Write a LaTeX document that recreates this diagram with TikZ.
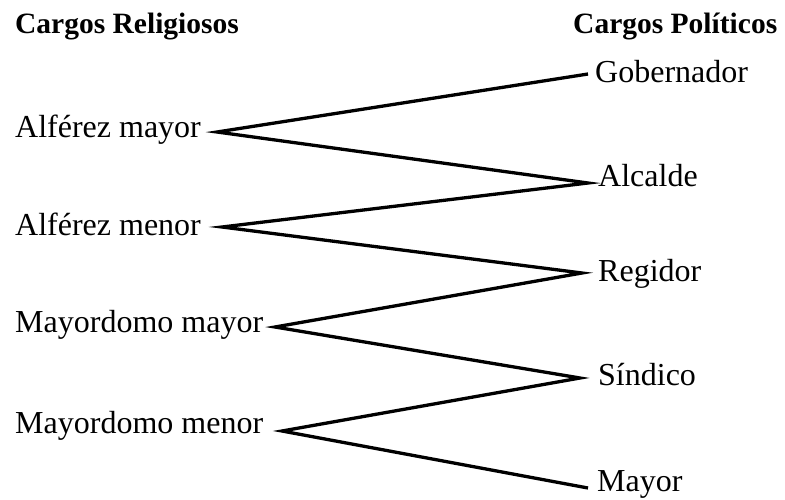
\documentclass[tikz,border=0pt]{standalone}
\usepackage{fontspec}
\setmainfont{Liberation Serif}
\begin{document}
\begin{tikzpicture}[x=1pt,y=-1pt,
  heading/.style={anchor=base west,inner sep=0pt,font=\fontsize{29.5}{34}\selectfont\bfseries},
  cargo/.style={anchor=base west,inner sep=0pt,font=\fontsize{32}{38}\selectfont},
  link/.style={line width=3.3pt,line join=miter,line cap=butt}]
\useasboundingbox (0,0) rectangle (785,499);

% column headings
\node[heading] (rel) at (15,33) {Cargos Religiosos};
\node[heading] (pol) at (573,33) {Cargos Políticos};

% religious offices
\node[cargo] (am)  at (15,137) {Alférez mayor};
\node[cargo] (an)  at (15,235) {Alférez menor};
\node[cargo] (mm)  at (15,332) {Mayordomo mayor};
\node[cargo] (mn)  at (15,433) {Mayordomo menor};

% political offices
\node[cargo] (gob) at (595,82)  {Gobernador};
\node[cargo] (alc) at (598,186) {Alcalde};
\node[cargo] (reg) at (598,281) {Regidor};
\node[cargo] (sin) at (598,385) {Síndico};
\node[cargo] (may) at (597,491.5) {Mayor};

% meeting points of the zigzag
\coordinate (am-p)  at (217,132);
\coordinate (an-p)  at (222,227);
\coordinate (mm-p)  at (275,327);
\coordinate (mn-p)  at (282,431);
\coordinate (gob-p) at (588,74);
\coordinate (alc-p) at (588,183);
\coordinate (reg-p) at (582,273);
\coordinate (sin-p) at (580,378);
\coordinate (may-p) at (588,488);

% zigzag linking the two hierarchies
\draw[link] (gob-p) -- (am-p) -- (alc-p) -- (an-p) -- (reg-p)
  -- (mm-p) -- (sin-p) -- (mn-p) -- (may-p);
\end{tikzpicture}
\end{document}
